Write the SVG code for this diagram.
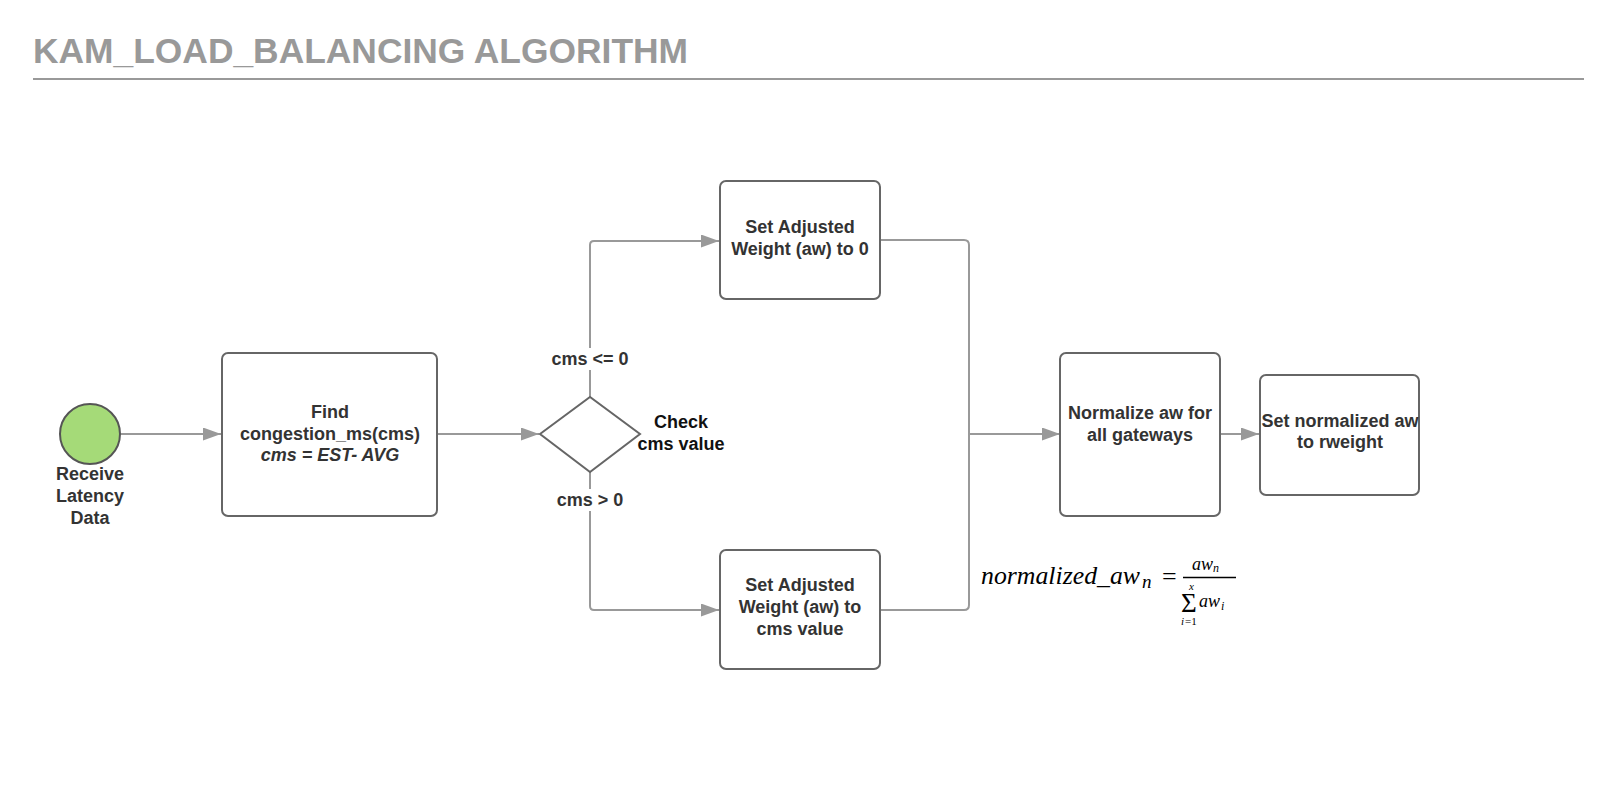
<svg xmlns="http://www.w3.org/2000/svg" width="1600" height="800" viewBox="0 0 1600 800">
<defs>
<style>
.node{fill:#fff;stroke:#666;stroke-width:2}
.t{font-family:"Liberation Sans",Arial,sans-serif;font-weight:bold;font-size:18px;fill:#333;text-anchor:middle}
.lbl{font-family:"Liberation Sans",Arial,sans-serif;font-weight:bold;font-size:18px;fill:#333;text-anchor:middle}
.conn{fill:none;stroke:#999;stroke-width:2}
.m{font-family:"Liberation Serif","Times New Roman",serif;font-style:italic;fill:#000}
.r{font-family:"Liberation Serif","Times New Roman",serif;fill:#000}
</style>
<marker id="arr" viewBox="0 0 18 13" refX="18" refY="6.5" markerWidth="18" markerHeight="13" markerUnits="userSpaceOnUse" orient="auto">
<path d="M0,0 L18,6.5 L0,13 z" fill="#999"/>
</marker>
</defs>
<rect width="1600" height="800" fill="#fff"/>
<g id="title">
<text x="33" y="63" font-family="'Liberation Sans',Arial,sans-serif" font-weight="bold" font-size="35" fill="#999" textLength="655" lengthAdjust="spacingAndGlyphs">KAM_LOAD_BALANCING ALGORITHM</text>
<line x1="33" y1="79" x2="1584" y2="79" stroke="#999" stroke-width="2"/>
</g>
<g id="connectors">
<path class="conn" d="M120.5,434 H221" marker-end="url(#arr)"/>
<path class="conn" d="M437,434 H539" marker-end="url(#arr)"/>
<path class="conn" d="M590,397 V245 Q590,241 594,241 H719" marker-end="url(#arr)"/>
<path class="conn" d="M590,472 V606 Q590,610 594,610 H719" marker-end="url(#arr)"/>
<path class="conn" d="M880,240 H964 Q969,240 969,245 V434"/>
<path class="conn" d="M880,610 H964 Q969,610 969,605 V434"/>
<path class="conn" d="M969,434 H1060" marker-end="url(#arr)"/>
<path class="conn" d="M1220,434 H1259" marker-end="url(#arr)"/>
<rect x="548" y="348" width="84" height="22" fill="#fff"/>
<text class="lbl" x="590" y="365">cms &lt;= 0</text>
<rect x="553" y="489" width="74" height="22" fill="#fff"/>
<text class="lbl" x="590" y="506">cms &gt; 0</text>
</g>
<g id="start">
<circle cx="90" cy="434" r="30" fill="#a5da78" stroke="#555" stroke-width="2"/>
<text class="t" x="90" y="480">Receive</text>
<text class="t" x="90" y="502">Latency</text>
<text class="t" x="90" y="524">Data</text>
</g>
<g id="find">
<rect class="node" x="222" y="353" width="215" height="163" rx="6"/>
<text class="t" x="330" y="418">Find</text>
<text class="t" x="330" y="440">congestion_ms(cms)</text>
<text class="t" x="330" y="461" font-style="italic">cms = EST- AVG</text>
</g>
<g id="check">
<polygon points="540,434 590,397 640,434 590,472" fill="#fff" stroke="#666" stroke-width="2"/>
<text class="t" x="681" y="428" style="fill:#111">Check</text>
<text class="t" x="681" y="450" style="fill:#111">cms value</text>
</g>
<g id="set-zero">
<rect class="node" x="720" y="181" width="160" height="118" rx="6"/>
<text class="t" x="800" y="233">Set Adjusted</text>
<text class="t" x="800" y="255">Weight (aw) to 0</text>
</g>
<g id="set-cms">
<rect class="node" x="720" y="550" width="160" height="119" rx="6"/>
<text class="t" x="800" y="591">Set Adjusted</text>
<text class="t" x="800" y="613">Weight (aw) to</text>
<text class="t" x="800" y="635">cms value</text>
</g>
<g id="normalize">
<rect class="node" x="1060" y="353" width="160" height="163" rx="6"/>
<text class="t" x="1140" y="419">Normalize aw for</text>
<text class="t" x="1140" y="441">all gateways</text>
</g>
<g id="set-rweight">
<rect class="node" x="1260" y="375" width="159" height="120" rx="6"/>
<text class="t" x="1340" y="426.5">Set normalized aw</text>
<text class="t" x="1340" y="447.5">to rweight</text>
</g>
<g id="formula">
<text class="m" x="981" y="584" font-size="26" textLength="159" lengthAdjust="spacingAndGlyphs">normalized_aw</text>
<text class="m" x="1142" y="588" font-size="19">n</text>
<text class="r" x="1162" y="585" font-size="26">=</text>
<text class="m" x="1192" y="570" font-size="18">aw</text>
<text class="m" x="1213" y="572" font-size="12">n</text>
<line x1="1183" y1="577.5" x2="1236" y2="577.5" stroke="#000" stroke-width="1.3"/>
<text class="m" x="1189" y="590" font-size="11">x</text>
<text class="r" x="1181" y="612" font-size="27">Σ</text>
<text class="m" x="1181" y="625" font-size="11">i</text>
<text class="r" x="1185" y="625" font-size="11">=1</text>
<text class="m" x="1199" y="607" font-size="18">aw</text>
<text class="m" x="1221" y="610" font-size="12">i</text>
</g>
</svg>
